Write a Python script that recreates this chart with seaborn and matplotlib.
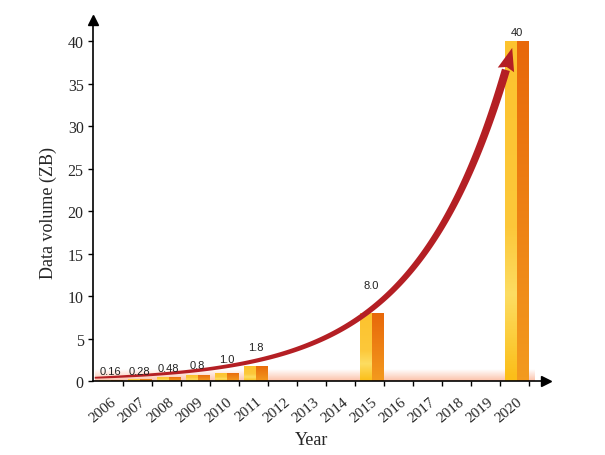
import numpy as np
import pandas as pd
import matplotlib
matplotlib.use("Agg")
import matplotlib.pyplot as plt
from matplotlib.colors import LinearSegmentedColormap, to_rgba
import seaborn as sns

# ---- data ----
years = [str(y) for y in range(2006, 2021)]
bar_years = ["2006", "2007", "2008", "2009", "2010", "2011", "2015", "2020"]
bar_values = [0.16, 0.28, 0.48, 0.8, 1.0, 1.8, 8.0, 40]
bar_labels = ["0.16", "0.28", "0.48", "0.8", "1.0", "1.8", "8.0", "40"]
label_offsets_px = [9, 8, 9, 10, 14, 19, 28, 9]
yticks = [0, 5, 10, 15, 20, 25, 30, 35, 40]

# decorative exponential trend arrow parameters
trend_a, trend_b = 0.5, 0.315
trend_x0, trend_x1 = -0.55, 13.85

FRONT = "#FCC22C"
SIDE = "#EE7B12"
ARROW = "#B41F24"

sns.set_theme(style="white")
plt.rcParams["font.family"] = ["Liberation Serif", "DejaVu Serif"]

fig = plt.figure(figsize=(6.05, 4.56), dpi=100)
ax = fig.add_axes([0.1532, 0.1616, 0.749, 0.792])
ax.set_xlim(-0.62, 15.01)
ax.set_ylim(0, 42.5)

# floor glow
glow = np.zeros((50, 2, 4))
glow[..., 0] = 0.98
glow[..., 1] = 0.55
glow[..., 2] = 0.38
glow[..., 3] = np.linspace(0.55, 0.0, 50)[:, None]
ax.imshow(glow, extent=[-0.55, 14.6, 0, 1.35], origin="lower", aspect="auto",
          zorder=0.5, interpolation="bilinear")

df = pd.DataFrame({
    "year": bar_years * 2,
    "value": bar_values * 2,
    "face": ["front"] * len(bar_years) + ["side"] * len(bar_years),
})
sns.barplot(data=df, x="year", y="value", hue="face", order=years,
            hue_order=["front", "side"],
            palette={"front": FRONT, "side": SIDE},
            width=0.82, dodge=True, gap=0, ax=ax, legend=False,
            saturation=1, linewidth=0, zorder=2)
ax.set_xlim(-0.62, 15.01)
ax.set_ylim(0, 42.5)

# gradient shading on bar faces (style only)
cm_front = LinearSegmentedColormap.from_list(
    "front", [(0.0, "#FBBE18"), (0.25, "#FDDD62"), (0.45, "#FCC83A"),
              (1.0, "#FDC32E")])
cm_side = LinearSegmentedColormap.from_list(
    "side", [(0.0, "#F39A1E"), (1.0, "#E8680A")])
grad = np.linspace(0, 1, 64)[:, None]
for p in list(ax.patches):
    h = p.get_height()
    if not np.isfinite(h) or h <= 0:
        continue
    x0, w = p.get_x(), p.get_width()
    is_front = np.allclose(p.get_facecolor(), to_rgba(FRONT))
    im = ax.imshow(grad, cmap=cm_front if is_front else cm_side,
                   extent=[x0, x0 + w, 0, h], origin="lower", aspect="auto",
                   zorder=2.1, interpolation="bilinear")
    im.set_clip_path(p)
ax.set_xlim(-0.62, 15.01)
ax.set_ylim(0, 42.5)

# value labels
pos = {y: i for i, y in enumerate(years)}
for yr, v, lab, off in zip(bar_years, bar_values, bar_labels, label_offsets_px):
    ax.annotate(lab, (pos[yr], v), xytext=(0, off), textcoords="offset pixels",
                ha="center", va="center", fontsize=8,
                family=["Liberation Sans", "DejaVu Sans"], color="#222222",
                zorder=5)

# tapered trend arrow (built in display space, drawn through data transform)
tx = np.linspace(trend_x0, trend_x1, 400)
ty = trend_a * np.exp(trend_b * tx)
pts = ax.transData.transform(np.column_stack([tx, ty]))
seg = np.hypot(*np.diff(pts, axis=0).T)
s = np.concatenate([[0], np.cumsum(seg)])
S = s[-1]
head_len, head_half = 22, 8.5
shaft = s <= S - head_len
P = pts[shaft]
sp = s[shaft]
d = np.gradient(P, axis=0)
d /= np.hypot(d[:, 0], d[:, 1])[:, None]
n = np.column_stack([-d[:, 1], d[:, 0]])
wid = 1.8 + 6.4 * (sp / sp[-1]) ** 0.8
poly = np.vstack([P + n * wid[:, None] / 2, (P - n * wid[:, None] / 2)[::-1]])
base = P[-1]
dirv = (pts[-1] - base) / np.hypot(*(pts[-1] - base))
nv = np.array([-dirv[1], dirv[0]])
head = np.array([base + nv * head_half, pts[-1], base - nv * head_half,
                 base + dirv * 3])
inv = ax.transData.inverted()
pd_ = inv.transform(poly)
hd_ = inv.transform(head)
ax.fill(pd_[:, 0], pd_[:, 1], color=ARROW, lw=0, zorder=4)
ax.fill(hd_[:, 0], hd_[:, 1], color=ARROW, lw=0, zorder=4)

# tick marks at the right edge of each year's slot
ax.set_xticks(np.arange(len(years)) + 0.42)
ax.set_xticklabels([])
# year labels anchored under each bar
ax.set_xticks(np.arange(len(years)), minor=True)
ax.set_xticklabels(years, minor=True, rotation=40, ha="right", va="top",
                   rotation_mode="anchor", fontsize=11)
ax.tick_params(axis="x", which="minor", length=0, pad=9.5)
ax.set_yticks(yticks)
ax.set_yticklabels([str(t) for t in yticks], fontsize=11.5)
ax.tick_params(axis="both", which="major", direction="out", length=3.5,
               width=1, color="black", pad=3, bottom=True, left=True)
ax.set_xlabel("Year", fontsize=13)
ax.set_ylabel("Data volume (ZB)", fontsize=13)
ax.xaxis.set_label_coords(0.482, -0.137)
ax.yaxis.set_label_coords(-0.078, 0.47)
ax.set_xlim(-0.62, 15.01)
ax.set_ylim(0, 42.5)

for sname in ["top", "right"]:
    ax.spines[sname].set_visible(False)
for sname in ["left", "bottom"]:
    ax.spines[sname].set_color("black")
    ax.spines[sname].set_linewidth(1.2)
ax.plot(1, 0, ">", color="black", ms=7.5, transform=ax.transAxes,
        clip_on=False, zorder=6)
ax.plot(0, 1, "^", color="black", ms=7.5, transform=ax.transAxes,
        clip_on=False, zorder=6)

fig.savefig("out.png", dpi=100)
